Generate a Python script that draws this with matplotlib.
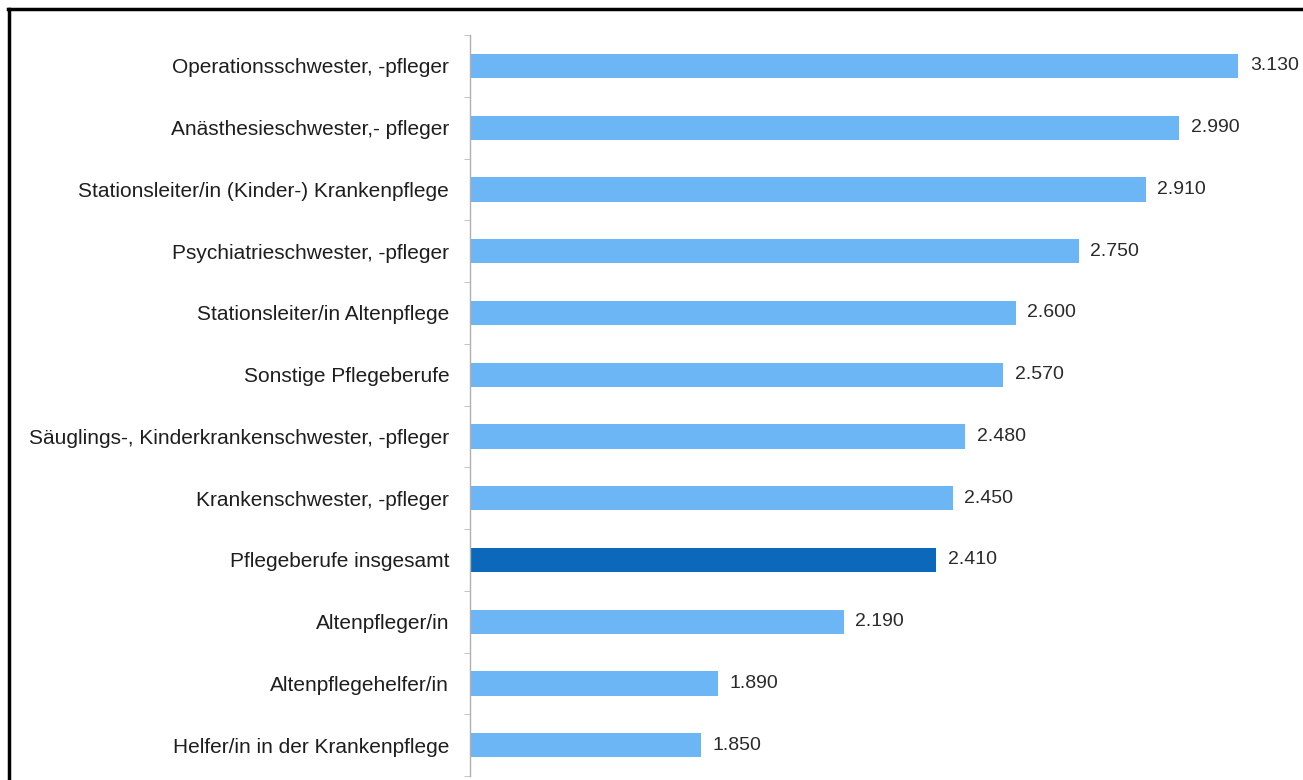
import matplotlib.pyplot as plt
from matplotlib.lines import Line2D

plt.rcParams["font.family"] = ["Liberation Sans", "DejaVu Sans"]

# Berufe (top to bottom) and values
berufe = [
    "Operationsschwester, -pfleger",
    "Anästhesieschwester,- pfleger",
    "Stationsleiter/in (Kinder-) Krankenpflege",
    "Psychiatrieschwester, -pfleger",
    "Stationsleiter/in Altenpflege",
    "Sonstige Pflegeberufe",
    "Säuglings-, Kinderkrankenschwester, -pfleger",
    "Krankenschwester, -pfleger",
    "Pflegeberufe insgesamt",
    "Altenpfleger/in",
    "Altenpflegehelfer/in",
    "Helfer/in in der Krankenpflege",
]
werte = [3130, 2990, 2910, 2750, 2600, 2570, 2480, 2450, 2410, 2190, 1890, 1850]
highlight = "Pflegeberufe insgesamt"

LIGHT = "#6CB6F5"
DARK = "#0B68BA"

fig = plt.figure(figsize=(13.03, 7.8), dpi=100)
ax = fig.add_axes([0.3607, 0.005, 0.632, 0.950])

y = list(range(len(berufe)))[::-1]
colors = [DARK if b == highlight else LIGHT for b in berufe]
ax.barh(y, werte, height=0.39, color=colors, left=0)
ax.set_xlim(1300, 3262)
ax.set_ylim(-0.5, len(berufe) - 0.5)

for yi, v in zip(y, werte):
    ax.text(v + 28, yi, f"{v:,}".replace(",", "."), va="center", ha="left",
            fontsize=14, color="#2a2a2a")

ax.set_yticks(y)
ax.set_yticklabels(berufe, fontsize=15, color="#1e1e1e")
ax.set_yticks([i + 0.5 for i in range(-1, len(berufe))], minor=True)
ax.tick_params(axis="y", which="major", length=0, pad=15)
ax.tick_params(axis="y", which="minor", length=4, color="#bbbbbb", direction="out")
ax.set_xticks([])
for s in ("top", "right", "bottom"):
    ax.spines[s].set_visible(False)
ax.spines["left"].set_color("#b0b0b0")
ax.spines["left"].set_linewidth(1.0)

# frame lines (top and left) of the original screenshot
fig.add_artist(Line2D([8 / 1303, 1], [1 - 9 / 780, 1 - 9 / 780], color="black", lw=2.5,
                      transform=fig.transFigure))
fig.add_artist(Line2D([9 / 1303, 9 / 1303], [0, 1 - 9 / 780], color="black", lw=2.5,
                      transform=fig.transFigure))

fig.savefig("out.png", dpi=100)
